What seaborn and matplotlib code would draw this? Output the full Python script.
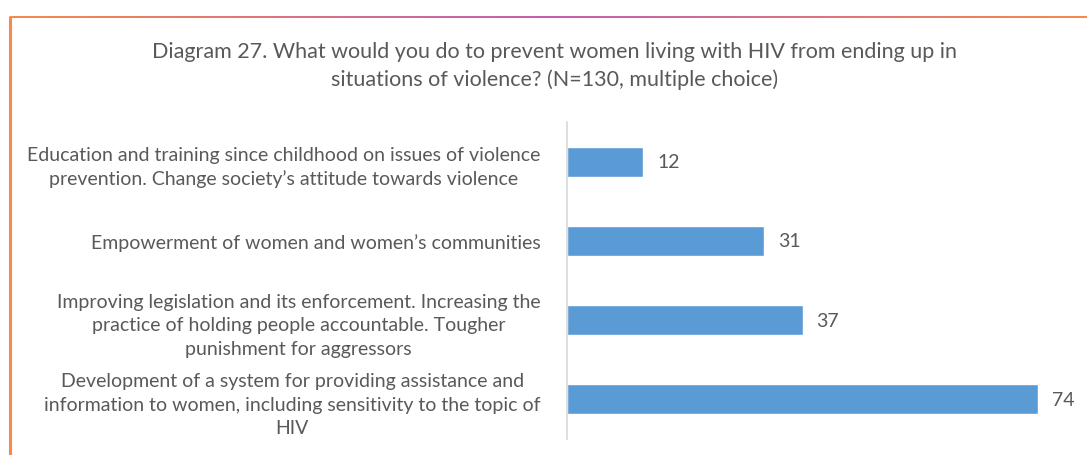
import numpy as np
import pandas as pd
import matplotlib
matplotlib.use("Agg")
import matplotlib.pyplot as plt
from matplotlib.colors import LinearSegmentedColormap
import seaborn as sns

categories = [
    "Education and training since childhood on issues of violence\nprevention. Change society\u2019s attitude towards violence",
    "Empowerment of women and women\u2019s communities",
    "Improving legislation and its enforcement. Increasing the\npractice of holding people accountable. Tougher\npunishment for aggressors",
    "Development of a system for providing assistance and\ninformation to women, including sensitivity to the topic of\nHIV",
]
values = [12, 31, 37, 74]
title = ("Diagram 27. What would you do to prevent women living with HIV from ending up in\n"
         "situations of violence? (N=130, multiple choice)")

sns.set_theme(style="white")
plt.rcParams["font.family"] = ["Lato", "DejaVu Sans"]

TEXT = "#595959"
BAR = "#5b9bd5"

df = pd.DataFrame({"answer": categories, "count": values})

fig = plt.figure(figsize=(10.87, 4.56), dpi=100)
W, H = 1087, 456
ax = fig.add_axes([567 / W, 1 - 440 / H, (1075 - 567) / W, (440 - 123) / H])

sns.barplot(data=df, y="answer", x="count", orient="h", color=BAR,
            width=0.38, ax=ax, saturation=1)

ax.set_xlim(0, 79.8)
ax.set_ylim(3.5, -0.5)
ax.set_xlabel("")
ax.set_ylabel("")
ax.set_xticks([])
for s in ["top", "right", "bottom"]:
    ax.spines[s].set_visible(False)
ax.spines["left"].set_color("#d9d9d9")
ax.spines["left"].set_linewidth(1.2)
ax.tick_params(axis="y", length=0, pad=19)
for lbl in ax.get_yticklabels():
    lbl.set_multialignment("center")
    lbl.set_fontsize(14)
    lbl.set_color(TEXT)
    lbl.set_linespacing(1.45)

for i, v in enumerate(values):
    ax.text(v + 2.2, i, str(v), va="center", ha="left", fontsize=14, color=TEXT)

fig.text(555 / W, 1 - 66 / H, title, ha="center", va="center",
         fontsize=15.5, color=TEXT, linespacing=1.43)

# Decorative frame: gradient top rule and orange left rule
frame = fig.add_axes([0, 0, 1, 1], zorder=-1)
frame.set_xlim(0, W)
frame.set_ylim(H, 0)
frame.axis("off")
cmap = LinearSegmentedColormap.from_list("frame", ["#f58a4b", "#c25fb4", "#f58a4b"])
grad = np.linspace(0, 1, 512)[None, :]
frame.imshow(grad, cmap=cmap, extent=[10, W, 19, 17], aspect="auto",
             interpolation="bilinear")
frame.plot([10, 10], [17, H], color="#f58a4b", lw=2.2, solid_capstyle="butt")
frame.set_xlim(0, W)
frame.set_ylim(H, 0)

fig.savefig("out.png", dpi=100)
